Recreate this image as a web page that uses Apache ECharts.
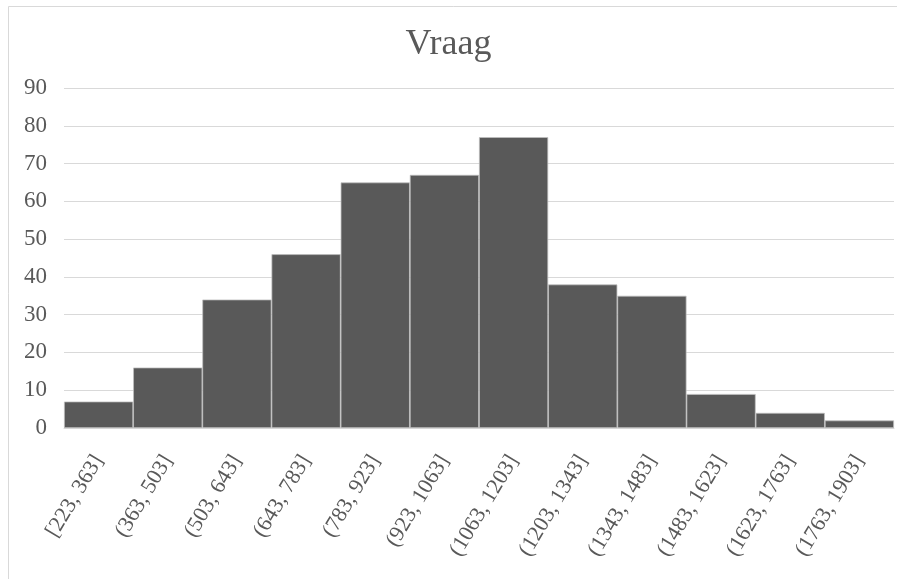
<!DOCTYPE html>
<html>
<head>
<meta charset="utf-8">
<script src="https://cdn.jsdelivr.net/npm/echarts@6/dist/echarts.min.js"></script>
<style>
html,body{margin:0;padding:0;background:#fff;}
#chart{width:897px;height:579px;}
</style>
</head>
<body>
<div id="chart"></div>
<script>
var categories = ['[223, 363]', '(363, 503]', '(503, 643]', '(643, 783]', '(783, 923]', '(923, 1063]', '(1063, 1203]', '(1203, 1343]', '(1343, 1483]', '(1483, 1623]', '(1623, 1763]', '(1763, 1903]'];
var counts = [7, 16, 34, 46, 65, 67, 77, 38, 35, 9, 4, 2];
var chartTitle = 'Vraag';

var chart = echarts.init(document.getElementById('chart'));
var font = '"Liberation Serif", "Times New Roman", serif';
chart.setOption({
  backgroundColor: '#fff',
  animation: false,
  graphic: [{
    type: 'rect',
    shape: {x: 8.5, y: 6.5, width: 900, height: 600},
    style: {fill: 'none', stroke: '#d9d9d9', lineWidth: 1},
    silent: true
  }],
  title: {
    text: chartTitle,
    left: 'center',
    top: 22,
    textStyle: {fontFamily: font, fontSize: 36, fontWeight: 'normal', color: '#595959'}
  },
  grid: {left: 64, right: 3, top: 88, bottom: 151, containLabel: false},
  xAxis: {
    type: 'category',
    data: categories,
    axisLine: {show: true, lineStyle: {color: '#d9d9d9', width: 1}},
    axisTick: {show: false},
    axisLabel: {
      rotate: 59,
      interval: 0,
      margin: 29,
      fontFamily: font,
      fontSize: 22,
      color: '#595959'
    }
  },
  yAxis: {
    type: 'value',
    min: 0,
    max: 90,
    interval: 10,
    axisLine: {show: false},
    axisTick: {show: false},
    splitLine: {lineStyle: {color: '#d9d9d9', width: 1}},
    axisLabel: {margin: 17, fontFamily: font, fontSize: 23, color: '#595959'}
  },
  series: [{
    type: 'bar',
    data: counts,
    barCategoryGap: '0%',
    itemStyle: {color: '#595959', borderColor: '#bfbfbf', borderWidth: 0.75}
  }]
});
</script>
</body>
</html>
